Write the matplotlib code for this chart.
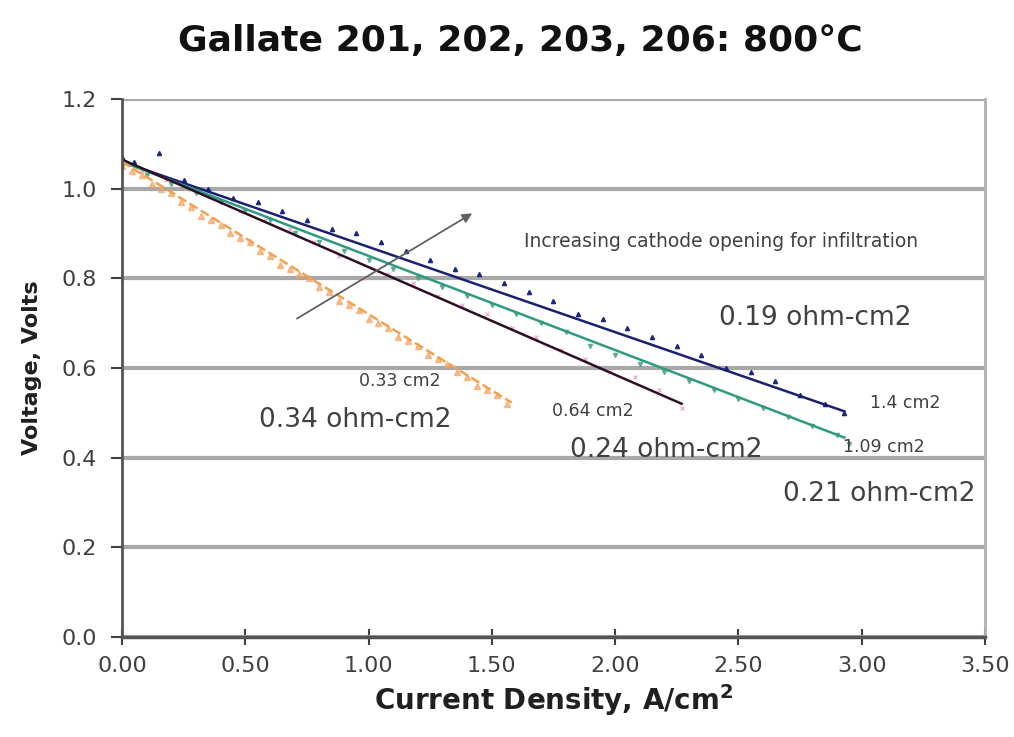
import numpy as np
import matplotlib.pyplot as plt

# Cell 206 (1.4 cm2)
j_14 = [0.00, 0.05, 0.15, 0.25, 0.35, 0.45, 0.55, 0.65, 0.75, 0.85, 0.95, 1.05, 1.15, 1.25, 1.35,
        1.45, 1.55, 1.65, 1.75, 1.85, 1.95, 2.05, 2.15, 2.25, 2.35, 2.45, 2.55, 2.65, 2.75, 2.85, 2.93]
v_14 = [1.07, 1.06, 1.08, 1.02, 1.00, 0.98, 0.97, 0.95, 0.93, 0.91, 0.90, 0.88, 0.86, 0.84, 0.82,
        0.81, 0.79, 0.77, 0.75, 0.72, 0.71, 0.69, 0.67, 0.65, 0.63, 0.60, 0.59, 0.57, 0.54, 0.52, 0.50]

# Cell 203 (1.09 cm2)
j_109 = [0.00, 0.10, 0.20, 0.30, 0.40, 0.50, 0.60, 0.70, 0.80, 0.90, 1.00, 1.10, 1.20, 1.30, 1.40, 1.50,
         1.60, 1.70, 1.80, 1.90, 2.00, 2.10, 2.20, 2.30, 2.40, 2.50, 2.60, 2.70, 2.80, 2.90, 2.95]
v_109 = [1.05, 1.03, 1.01, 0.99, 0.97, 0.95, 0.93, 0.90, 0.88, 0.86, 0.84, 0.82, 0.80, 0.78, 0.76, 0.74,
         0.72, 0.70, 0.68, 0.65, 0.63, 0.61, 0.59, 0.57, 0.55, 0.53, 0.51, 0.49, 0.47, 0.45, 0.43]

# Cell 202 (0.64 cm2)
j_064 = [0.00, 0.08, 0.18, 0.28, 0.38, 0.48, 0.58, 0.68, 0.78, 0.88, 0.98, 1.08, 1.18, 1.28, 1.38, 1.48,
         1.58, 1.68, 1.78, 1.88, 1.98, 2.08, 2.18, 2.27]
v_064 = [1.05, 1.04, 1.02, 1.00, 0.98, 0.95, 0.93, 0.91, 0.88, 0.85, 0.80, 0.81, 0.79, 0.76, 0.74, 0.72,
         0.69, 0.67, 0.64, 0.62, 0.59, 0.58, 0.55, 0.51]

# Cell 201 (0.33 cm2)
j_033 = [0.00, 0.04, 0.08, 0.12, 0.16, 0.20, 0.24, 0.28, 0.32, 0.36, 0.40, 0.44, 0.48, 0.52, 0.56, 0.60,
         0.64, 0.68, 0.72, 0.76, 0.80, 0.84, 0.88, 0.92, 0.96, 1.00, 1.04, 1.08, 1.12, 1.16, 1.20, 1.24,
         1.28, 1.32, 1.36, 1.40, 1.44, 1.48, 1.52, 1.56]
v_033 = [1.05, 1.04, 1.03, 1.01, 1.00, 0.99, 0.97, 0.96, 0.94, 0.93, 0.92, 0.90, 0.89, 0.88, 0.86, 0.85,
         0.83, 0.82, 0.81, 0.80, 0.78, 0.77, 0.75, 0.74, 0.73, 0.71, 0.70, 0.69, 0.67, 0.66, 0.65, 0.63,
         0.62, 0.61, 0.59, 0.58, 0.56, 0.55, 0.54, 0.52]

# linear fits: open-circuit intercept, ASR (ohm-cm2), last current density
fit_ocv = [1.06, 1.06, 1.065, 1.06]
fit_asr = [0.19, 0.21, 0.24, 0.34]
fit_jmax = [2.93, 2.93, 2.27, 1.58]

plt.figure(figsize=(10.14, 7.37), dpi=100)
ax = plt.axes([0.1203, 0.1357, 0.851, 0.73])

grey = '#404040'
ax.set_xlim(0, 3.5)
ax.set_ylim(0, 1.2)
ax.set_xticks(np.arange(0, 3.51, 0.5))
ax.set_yticks(np.arange(0, 1.21, 0.2))
ax.set_xticklabels([f'{t:.2f}' for t in np.arange(0, 3.51, 0.5)])
ax.set_yticklabels([f'{t:.1f}' for t in np.arange(0, 1.21, 0.2)])
ax.tick_params(labelsize=16, colors=grey, length=8, width=1.5, direction='out', pad=10)
ax.tick_params(axis='x', direction='inout', length=12, pad=8)
ax.yaxis.grid(True, color='#a8a8a8', linewidth=3)
ax.set_axisbelow(True)
ax.spines['top'].set_visible(False)
ax.spines['right'].set_color('#b0b0b0')
ax.spines['right'].set_linewidth(2)
ax.spines['left'].set_color('#555555')
ax.spines['left'].set_linewidth(2)
ax.spines['bottom'].set_color('#555555')
ax.spines['bottom'].set_linewidth(2.5)

# measured points
ax.plot(j_033, v_033, linestyle='none', marker='^', markersize=4, color='#f4a460', alpha=0.7)
ax.plot(j_064, v_064, linestyle='none', marker='x', markersize=3.5, color='#e9a0c8', alpha=0.8)
ax.plot(j_109, v_109, linestyle='none', marker='v', markersize=3, color='#4aa37a', alpha=0.8)
ax.plot(j_14, v_14, linestyle='none', marker='^', markersize=3, color='#1c2580')

# fitted lines
fit_colors = ['#1a1f70', '#2f9a80', '#2e0d25', '#f4a050']
fit_styles = ['-', '-', '-', '--']
for ocv, asr, jm, c, ls in zip(fit_ocv, fit_asr, fit_jmax, fit_colors, fit_styles):
    jj = np.array([0.0, jm])
    ax.plot(jj, ocv - asr * jj, color=c, linestyle=ls, linewidth=1.8)

# arrow and notes
ax.annotate('', xy=(1.43, 0.948), xytext=(0.70, 0.707),
            arrowprops=dict(arrowstyle='-|>', color='#606060', lw=1.3, mutation_scale=14))
ax.text(2.43, 0.883, 'Increasing cathode opening for infiltration', fontsize=13.5,
        color='#404040', ha='center', va='center')

txt = '#404040'
big = 19
ax.text(2.81, 0.711, f'{fit_asr[0]:.2f} ohm-cm2', fontsize=big, color=txt, ha='center', va='center')
ax.text(3.07, 0.319, f'{fit_asr[1]:.2f} ohm-cm2', fontsize=big, color=txt, ha='center', va='center')
ax.text(2.206, 0.417, f'{fit_asr[2]:.2f} ohm-cm2', fontsize=big, color=txt, ha='center', va='center')
ax.text(0.945, 0.484, f'{fit_asr[3]:.2f} ohm-cm2', fontsize=big, color=txt, ha='center', va='center')
small = 12.5
ax.text(3.175, 0.522, '1.4 cm2', fontsize=small, color=txt, ha='center', va='center')
ax.text(3.09, 0.424, '1.09 cm2', fontsize=small, color=txt, ha='center', va='center')
ax.text(1.91, 0.504, '0.64 cm2', fontsize=small, color=txt, ha='center', va='center')
ax.text(1.127, 0.571, '0.33 cm2', fontsize=small, color=txt, ha='center', va='center')

ax.set_xlabel('Current Density, A/cm$^\\mathbf{2}$', fontsize=20, fontweight='bold', color='#202020',
              labelpad=4)
ax.set_ylabel('Voltage, Volts', fontsize=16, fontweight='bold', color='#202020', labelpad=14)
plt.figtext(0.513, 0.945, 'Gallate 201, 202, 203, 206: 800°C', fontsize=26, fontweight='bold',
            ha='center', va='center', color='#111111')

plt.savefig('out.png', dpi=100)
